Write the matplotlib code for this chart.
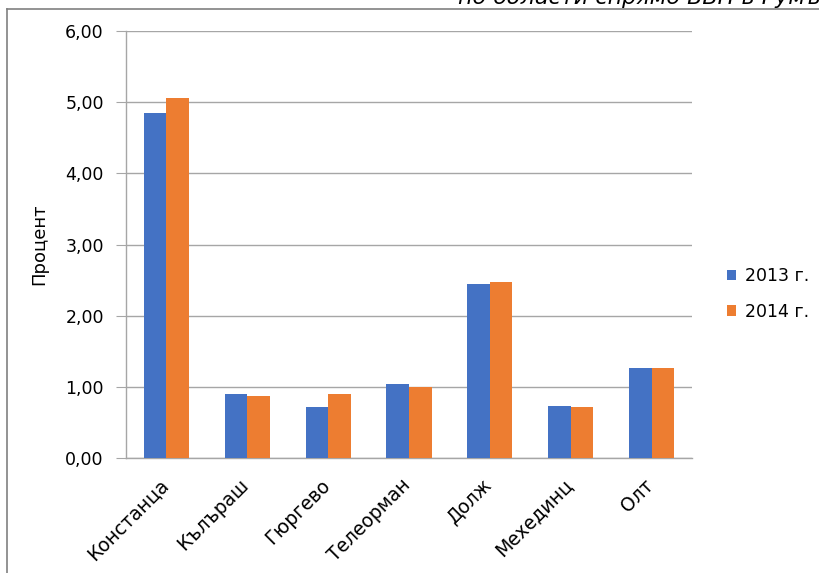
import matplotlib
matplotlib.use("Agg")
import matplotlib.pyplot as plt
from matplotlib.lines import Line2D
from matplotlib.transforms import ScaledTranslation
import numpy as np

plt.rcParams['font.family'] = ['DejaVu Sans']

categories = ["Констанца", "Кълъраш", "Гюргево", "Телеорман", "Долж", "Мехединц", "Олт"]
values_2013 = [4.85, 0.90, 0.72, 1.04, 2.45, 0.73, 1.26]
values_2014 = [5.06, 0.87, 0.90, 1.00, 2.48, 0.71, 1.26]
series_labels = ["2013 г.", "2014 г."]
yticks = [0, 1, 2, 3, 4, 5, 6]
title_text = "по области спрямо БВП в Румъния"

W, H = 820, 573
fig = plt.figure(figsize=(W/100, H/100), dpi=100)
ax = fig.add_axes([126/W, 1-458/H, (692-126)/W, (458-31)/H])

x = np.arange(len(categories))
bw = 0.28
ax.bar(x - bw/2, values_2013, bw, color="#4472C4", label=series_labels[0], zorder=3)
ax.bar(x + bw/2, values_2014, bw, color="#ED7D31", label=series_labels[1], zorder=3)

ax.set_xlim(-0.5, len(categories) - 0.5)
ax.set_ylim(0, 6)
ax.set_yticks(yticks)
ax.set_yticklabels([f"{v:.2f}".replace(".", ",") for v in yticks], fontsize=12.5)
ax.yaxis.grid(True, color="#a6a6a6", linewidth=1.0, zorder=0)
ax.set_xticks(x)
ax.set_xticklabels(categories, rotation=45, ha="right", rotation_mode="anchor", fontsize=13.5)
ax.tick_params(axis="x", length=0, pad=9)
ax.tick_params(axis="y", length=7, color="#a6a6a6", pad=9)
offset = ScaledTranslation(-8/100, -5/100, fig.dpi_scale_trans)
for lbl in ax.get_xticklabels():
    lbl.set_transform(lbl.get_transform() + offset)
for s in ["top", "right"]:
    ax.spines[s].set_visible(False)
for s in ["left", "bottom"]:
    ax.spines[s].set_color("#a6a6a6")
    ax.spines[s].set_linewidth(1.0)
ax.set_ylabel("Процент", fontsize=13, labelpad=12)

ax.legend(loc="center left", bbox_to_anchor=(711/W, 1-294/H), bbox_transform=fig.transFigure,
          frameon=False, fontsize=12.5, handlelength=0.55, handleheight=0.55, handletextpad=0.5,
          labelspacing=1.0)

# border
fig.add_artist(Line2D([7/W, 7/W], [0, 1-9/H], transform=fig.transFigure, color="#808080", linewidth=1.2))
fig.add_artist(Line2D([7/W, 1], [1-9/H, 1-9/H], transform=fig.transFigure, color="#808080", linewidth=1.2))
fig.text(458/W, 1-4.5/H, title_text, fontsize=16, style="italic", ha="left", va="baseline")

fig.savefig("out.png", dpi=100)
